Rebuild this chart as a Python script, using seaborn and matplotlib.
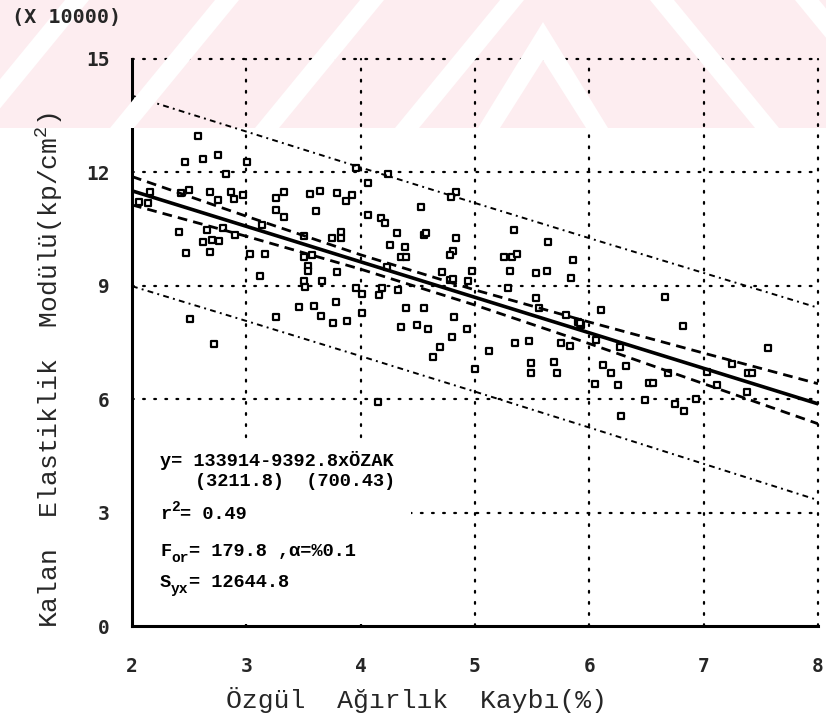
import numpy as np
import pandas as pd
import matplotlib
matplotlib.use("Agg")
import matplotlib.pyplot as plt
from matplotlib.patches import Polygon, Rectangle
import seaborn as sns

# Özgül ağırlık kaybı (%) of each specimen
weight_loss = [
    2.58, 2.46, 2.62, 2.75, 3.01, 2.82, 3.96,
    2.16, 2.06, 2.14, 2.43, 2.50, 2.68, 2.75, 2.87, 2.89, 2.97, 3.26, 3.33, 3.26,
    3.33, 3.56, 3.64, 3.79, 3.87, 3.92, 3.61,
    2.41, 2.66, 2.62, 2.70, 2.76, 2.68, 2.80, 2.90, 2.47, 3.14, 3.03, 3.16, 3.50,
    3.83, 3.83, 3.75, 3.50, 3.57,
    2.51, 2.72, 3.46, 3.26, 3.12, 3.50, 3.51, 3.66, 3.54, 3.54, 3.59, 3.65, 3.78,
    3.76, 3.88, 3.79, 3.96, 4.01,
    4.06, 4.24, 4.83, 4.79, 4.53, 4.06, 4.18, 4.21, 4.32, 4.55, 4.57, 4.83, 4.26,
    4.39, 4.35, 4.40, 4.81, 4.78, 5.34, 5.64, 5.25, 5.32, 5.37, 5.86,
    4.71, 4.97, 4.78, 4.81, 4.94, 5.31, 5.53, 5.63, 5.84, 4.23, 4.33, 4.19, 4.16,
    4.01, 4.40, 4.55, 4.35, 4.49, 4.59, 4.82, 4.93, 4.80, 4.69, 4.63, 5.00, 5.12,
    5.29, 5.53, 5.56, 5.80, 5.90, 5.93, 5.35, 5.47, 5.75, 5.83, 5.49, 5.69, 5.49,
    5.72, 4.15, 5.92,
    6.66, 6.10, 6.82, 7.56, 6.06, 6.27, 6.12, 6.32, 6.19, 6.05, 6.25, 6.52, 6.56,
    6.69, 6.49, 6.75, 6.83, 6.93, 6.28, 7.25, 7.39, 7.42, 7.12, 7.38, 7.03,
]

# Kalan elastiklik modülü (x 10000 kp/cm²)
modulus = [
    12.97, 12.28, 12.35, 12.46, 12.28, 11.96, 12.11,
    11.49, 11.21, 11.18, 11.45, 11.53, 11.49, 11.27, 11.49, 11.29, 11.40, 11.31, 11.49, 11.01,
    10.82, 11.42, 11.51, 11.46, 11.25, 11.40, 10.99,
    10.42, 10.48, 10.17, 10.21, 10.19, 9.90, 10.52, 10.34, 9.86, 10.61, 9.83, 9.83, 10.33,
    10.43, 10.27, 10.26, 9.77, 9.81,
    8.12, 7.45, 8.43, 8.18, 9.25, 9.13, 8.96, 9.13, 9.52, 9.40, 8.47, 8.21, 8.58,
    8.02, 8.07, 9.37, 8.93, 8.78,
    11.71, 11.95, 11.47, 11.34, 11.08, 10.87, 10.80, 10.65, 10.40, 10.34, 10.39, 10.27, 10.08,
    10.02, 9.77, 9.77, 9.92, 9.81, 10.48, 10.17, 9.77, 9.77, 9.83, 9.67,
    9.36, 9.39, 9.15, 9.18, 9.13, 9.39, 9.33, 9.39, 9.21, 9.51, 8.89, 8.93, 8.76,
    8.27, 8.42, 8.42, 7.92, 7.96, 7.86, 8.18, 7.86, 7.65, 7.37, 7.12, 6.80, 7.28,
    8.93, 8.67, 8.42, 8.23, 8.05, 7.96, 7.48, 7.54, 7.48, 7.42, 6.95, 6.99, 6.69,
    6.69, 5.93, 8.01,
    8.71, 8.36, 7.94, 7.36, 7.57, 7.39, 6.90, 6.89, 6.69, 6.39, 6.38, 6.42, 6.44,
    6.69, 5.98, 5.87, 5.70, 6.01, 5.56, 6.93, 6.69, 6.69, 6.38, 6.20, 6.73,
]

# Fitted model: y = 133914 - 9392.8 x ÖZAK
intercept = 133914
slope = -9392.8
y_unit = 10000

# Confidence and prediction limits at each whole percent
band_x = [2, 3, 4, 5, 6, 7, 8]
conf_upper = [11.89, 10.84, 9.82, 8.89, 8.04, 7.22, 6.41]
conf_lower = [11.14, 10.31, 9.44, 8.49, 7.47, 6.41, 5.35]
pred_upper = [14.03, 13.08, 12.13, 11.19, 10.26, 9.34, 8.42]
pred_lower = [8.99, 8.07, 7.14, 6.20, 5.25, 4.29, 3.33]

x_ticks = [2, 3, 4, 5, 6, 7, 8]
y_ticks = [0, 3, 6, 9, 12, 15]

MONO = ["Liberation Mono", "DejaVu Sans Mono"]

sns.set_theme(style="white")
plt.rcParams.update({
    "font.family": MONO,
    "mathtext.fontset": "custom",
    "mathtext.rm": "Liberation Mono",
    "mathtext.it": "Liberation Mono",
    "mathtext.bf": "Liberation Mono",
})

W, H = 826, 722
fig = plt.figure(figsize=(W / 100, H / 100), dpi=100)
fig.patch.set_facecolor("white")


def fx(px):
    return px / W


def fy(py):
    return 1 - py / H


# faint diagonal stamp across the top of the page
pink = "#fdedf0"
band_top, band_bot = 0, 128
fig.add_artist(Rectangle((0, fy(band_bot)), 1, fy(band_top) - fy(band_bot),
                         transform=fig.transFigure, facecolor=pink,
                         edgecolor="none", zorder=0))
white_stripes = []
for b in [-40, 110, 255, 395]:
    white_stripes.append([(b, band_bot), (b + 24, band_bot),
                          (b + 24 + 105, band_top), (b + 105, band_top)])
white_stripes.append([(478, band_bot), (500, band_bot), (543, 60),
                      (586, band_bot), (608, band_bot), (543, 22)])
for t in [650, 795]:
    white_stripes.append([(t, band_top), (t + 24, band_top),
                          (t + 24 + 105, band_bot), (t + 105, band_bot)])
for poly in white_stripes:
    pts = [(fx(px), fy(py)) for px, py in poly]
    fig.add_artist(Polygon(pts, closed=True, transform=fig.transFigure,
                           facecolor="white", edgecolor="none", zorder=0.5))

ax = fig.add_axes([fx(132), fy(626), fx(818) - fx(132), fy(59) - fy(626)])
ax.set_facecolor("none")
ax.set_xlim(2, 8)
ax.set_ylim(0, 15)

# dotted grid
for gx in x_ticks[1:]:
    ax.axvline(gx, color="black", lw=1.6, ls=(0, (0.8, 4.2)), zorder=1,
               clip_on=False, dash_capstyle="round")
for gy in y_ticks[1:]:
    ax.axhline(gy, color="black", lw=1.6, ls=(0, (0.8, 4.2)), zorder=1,
               clip_on=False, dash_capstyle="round")

# blank panel behind the statistics
ax.add_patch(Rectangle((2.02, 0.04), 2.42, 4.8, facecolor="white",
                       edgecolor="none", zorder=1.5))

pts = pd.DataFrame({"x": weight_loss, "y": modulus})
sns.scatterplot(data=pts, x="x", y="y", marker="s", s=18, color="white",
                edgecolor="black", linewidth=1.6, ax=ax, zorder=3)

fit_x = np.array([band_x[0], band_x[-1]], dtype=float)
fit = pd.DataFrame({"x": fit_x, "y": (intercept + slope * fit_x) / y_unit})
sns.lineplot(data=fit, x="x", y="y", color="black", lw=2.6, ax=ax, zorder=4)

bands = pd.DataFrame({"x": band_x, "cu": conf_upper, "cl": conf_lower,
                      "pu": pred_upper, "pl": pred_lower})
for col in ["cu", "cl"]:
    sns.lineplot(data=bands, x="x", y=col, color="black", lw=2.0,
                 ls=(0, (3.5, 2.2)), ax=ax, zorder=4)
for col in ["pu", "pl"]:
    sns.lineplot(data=bands, x="x", y=col, color="black", lw=1.4,
                 ls=(0, (3.0, 2.2, 1, 2.2)), ax=ax, zorder=4)

for side in ["top", "right"]:
    ax.spines[side].set_visible(False)
for side in ["left", "bottom"]:
    ax.spines[side].set_color("black")
    ax.spines[side].set_linewidth(2.2)
    ax.spines[side].set_zorder(5)

ax.set_xticks(x_ticks)
ax.set_yticks(y_ticks)
ax.set_xticklabels([str(v) for v in x_ticks])
ax.set_yticklabels([str(v) for v in y_ticks])
ax.tick_params(axis="both", length=0, labelsize=14)
ax.tick_params(axis="x", pad=22)
ax.tick_params(axis="y", pad=16)
for lab in ax.get_xticklabels() + ax.get_yticklabels():
    lab.set_fontfamily("DejaVu Sans Mono")
    lab.set_fontweight("bold")
ax.set_xlabel("")
ax.set_ylabel("")

# statistics block, built from pieces so the indices sit in the same face
FS, FS_SMALL = 13.4, 10.5


def stat(x, y, parts):
    dx = 0.0
    for s, size, dy in parts:
        ax.annotate(s, xy=(x, y), xytext=(dx, dy), textcoords="offset points",
                    fontsize=size, fontweight="bold", family=MONO,
                    ha="left", va="center", zorder=6, color="black")
        dx += len(s) * 0.6 * size


stat(2.245, 4.39, [("y= 133914-9392.8xÖZAK", FS, 0)])
stat(2.55, 3.81, [("(3211.8)  (700.43)", FS, 0)])
stat(2.245, 2.94, [("r", FS, 0), ("2", FS_SMALL, 5.5), ("= 0.49", FS, 0)])
stat(2.245, 1.96, [("F", FS, 0), ("or", FS_SMALL, -4.5),
                   ("= 179.8 ,α=%0.1", FS, 0)])
stat(2.245, 1.14, [("S", FS, 0), ("yx", FS_SMALL, -4.5),
                   ("= 12644.8", FS, 0)])

fig.text(fx(12), fy(17), "(X 10000)", fontsize=14.5, fontweight="bold",
         family="DejaVu Sans Mono", ha="left", va="center")

fig.text(fx(416), fy(700), "Özgül  Ağırlık  Kaybı(%)", fontsize=19,
         ha="center", va="center")
fig.text(fx(50), fy(370), r"Kalan  Elastiklik  Modülü(kp/cm$^2$)",
         fontsize=19, rotation=90, ha="center", va="center")

fig.savefig("out.png", dpi=100)
